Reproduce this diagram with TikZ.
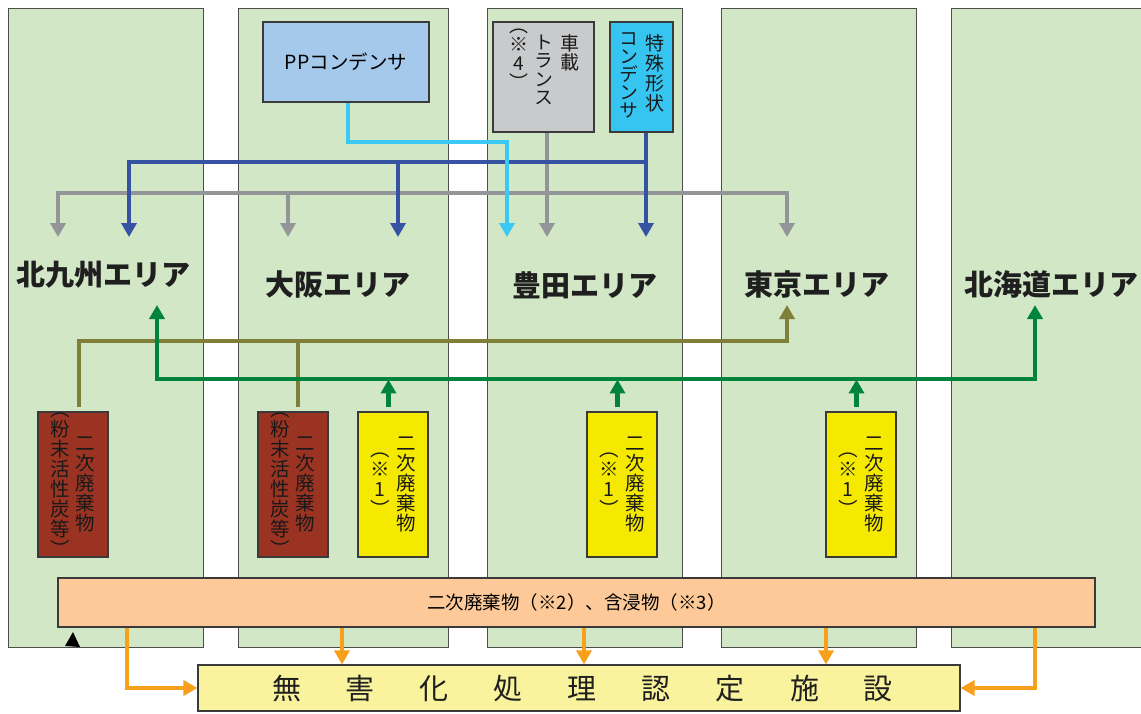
\documentclass[tikz,border=0pt]{standalone}
\usepackage{fontspec}
\setmainfont{Noto Sans CJK JP}
\newfontfamily\vfont[RawFeature=+vert]{Noto Sans CJK JP}
\usetikzlibrary{arrows.meta, calc}
\definecolor{panelgreen}{HTML}{D1E7C6}
\definecolor{panelline}{HTML}{4D4D4D}
\definecolor{boxline}{HTML}{3A3A3A}
\definecolor{ppblue}{HTML}{A4C9EB}
\definecolor{transgray}{HTML}{C9CACB}
\definecolor{condcyan}{HTML}{35C5F0}
\definecolor{wastebrown}{HTML}{9B3322}
\definecolor{wasteyellow}{HTML}{F6E900}
\definecolor{mixorange}{HTML}{FDC998}
\definecolor{facyellow}{HTML}{F9F39D}
\definecolor{arrgray}{HTML}{939598}
\definecolor{arrblue}{HTML}{3653A3}
\definecolor{arrcyan}{HTML}{3CC8F4}
\definecolor{arrolive}{HTML}{807F3A}
\definecolor{arrgreen}{HTML}{00843D}
\definecolor{arrorange}{HTML}{F7A01C}

\begin{document}
\begin{tikzpicture}[x=1pt, y=-1pt,
    hd/.tip={Triangle[width=15pt, length=14pt]},
    panel/.style={rectangle, draw=panelline, fill=panelgreen, line width=0.9pt, minimum width=195pt, minimum height=639pt, inner sep=0pt},
    area/.style={font=\fontsize{29}{32}\selectfont\bfseries, text=black!88},
    box/.style={rectangle, draw=boxline, line width=1.1pt, inner sep=0pt},
    waste/.style={box, minimum width=70pt, minimum height=145pt},
    vcol/.style={font=\fontsize{19.5}{20}\vfont, align=center, inner sep=0pt, text=black!90},
    flow/.style={line width=4.5pt, -hd}
]
\useasboundingbox (0,0) rectangle (1141,713);

% Areas
\node[panel] (p1) at (105.5,327.5) {};
\node[panel, minimum width=210pt] (p2) at (343,327.5) {};
\node[panel] (p3) at (584.5,327.5) {};
\node[panel] (p4) at (818.5,327.5) {};
\node[panel, minimum width=199pt] (p5) at (1050.5,327.5) {};

\node[area] (kyushu) at (103.5,275) {北九州エリア};
\node[area] (osaka) at (338,284) {大阪エリア};
\node[area] (toyota) at (585,285) {豊田エリア};
\node[area] (tokyo) at (817,284) {東京エリア};
\node[area] (hokkaido) at (1051,284) {北海道エリア};

% Sources at the top
\node[box, fill=ppblue, minimum width=166pt, minimum height=80pt, font=\fontsize{19.5}{22}\selectfont] (pp) at (346,62) {PPコンデンサ};
\node[box, fill=transgray, minimum width=101pt, minimum height=110pt] (trans) at (543.5,77) {};
\node[box, fill=condcyan, minimum width=63pt, minimum height=110pt] (cond) at (641.5,77) {};

\node[vcol, anchor=north, font=\fontsize{19}{19}\vfont] at ([xshift=26pt,yshift=-13pt]trans.north) {車\\載};
\node[vcol, anchor=north, font=\fontsize{19}{18.5}\vfont] at ([yshift=-13pt]trans.north) {ト\\ラ\\ン\\ス};
\node[vcol, anchor=north, font=\fontsize{19}{19}\vfont] at ([xshift=-25pt,yshift=-7pt]trans.north) {（\\※\\4\\）};
\node[vcol, anchor=north, font=\fontsize{19}{20}\vfont] at ([xshift=13.5pt,yshift=-13pt]cond.north) {特\\殊\\形\\状};
\node[vcol, anchor=north, font=\fontsize{19}{18}\vfont] at ([xshift=-12.5pt,yshift=-11pt]cond.north) {コ\\ン\\デ\\ン\\サ};

% Secondary waste
\node[waste, fill=wastebrown] (bk1) at (73,484.5) {};
\node[waste, fill=wastebrown] (bo1) at (293,484.5) {};
\node[waste, fill=wasteyellow] (yo) at (393,484.5) {};
\node[waste, fill=wasteyellow] (yt) at (622,484.5) {};
\node[waste, fill=wasteyellow] (yk) at (861,484.5) {};

\foreach \b in {bk1,bo1} {
  \node[vcol] at ([xshift=12pt]\b.center) {二\\次\\廃\\棄\\物};
  \node[vcol] at ([xshift=-13pt]\b.center) {（\\粉\\末\\活\\性\\炭\\等\\）};
}
\foreach \b in {yo,yt,yk} {
  \node[vcol] at ([xshift=13pt]\b.center) {二\\次\\廃\\棄\\物};
  \node[vcol] at ([xshift=-13pt]\b.center) {（\\※\\1\\）};
}

% Bottom
\node[box, fill=mixorange, minimum width=1037pt, minimum height=49pt, font=\fontsize{18.5}{20}\selectfont] (mix) at (576.5,602.5) {二次廃棄物（※2）、含浸物（※3）};
\newcommand\facsep{\hspace{45pt}}
\node[box, fill=facyellow, minimum width=762pt, minimum height=46pt] (facility) at (579,688) {};
\node[font=\fontsize{29}{32}\selectfont, text=black!88] at (582.5,689) {無\facsep 害\facsep 化\facsep 処\facsep 理\facsep 認\facsep 定\facsep 施\facsep 設};

% Transport of transformers and capacitors
\draw[flow, arrgray, hd-hd] (58,237) |- (787,193) -- (787,237);
\draw[flow, arrgray] (288,193) -- (288,237);
\draw[flow, arrgray] (trans.south -| 547,0) -- (547,237);

\draw[flow, arrblue, hd-] (129,237) |- (646,162);
\draw[flow, arrblue] (cond.south -| 646,0) -- (646,237);
\draw[flow, arrblue] (398,162) -- (398,237);

\draw[flow, arrcyan] (pp.south -| 348,0) |- (507,142) -- (507,237);

% Secondary waste flows
\draw[flow, arrolive] ([xshift=6pt,yshift=4pt]bk1.north) |- (787,341) -- (787,305);
\draw[line width=4.5pt, arrolive] ([xshift=5pt,yshift=4pt]bo1.north) -- (298,341);

\draw[flow, arrgreen, hd-hd] (157,305) |- (1035,379) -- (1035,305);
\foreach \b in {yo,yt,yk}
  \draw[flow, arrgreen] ([xshift=-4.5pt,yshift=4pt]\b.north) -- ++(0,-28);

% To the treatment facility
\draw[flow, arrorange] (mix.south -| 127,0) |- (facility.west);
\draw[flow, arrorange] (mix.south -| 1035,0) |- (facility.east);
\foreach \x in {342,584,826}
  \draw[flow, arrorange] (mix.south -| \x,0) -- (facility.north -| \x,0);

\fill[black] (65,646) -- (73,632) -- (80,647) -- cycle;
\end{tikzpicture}
\end{document}
